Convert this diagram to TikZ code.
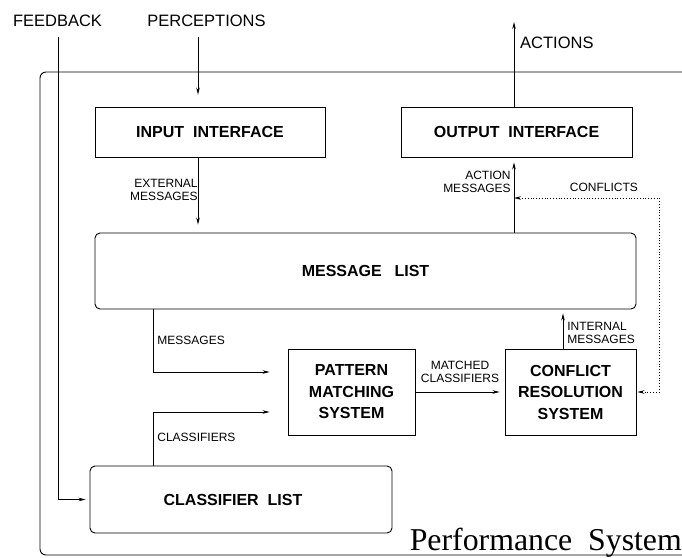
\documentclass[tikz,border=0pt]{standalone}
\usepackage{fontspec}
\setmainfont{Liberation Sans}
\newfontfamily\serifface{Liberation Serif}
\usetikzlibrary{arrows.meta}

\begin{document}
\begin{tikzpicture}[x=1pt,y=-1pt,>={Stealth[length=7pt,width=3.5pt]}]
	\newcommand{\boxfont}{\fontsize{16}{21.5}\selectfont\bfseries}
	\newcommand{\lblfont}{\fontsize{12}{13}\selectfont}
	\newcommand{\toplblfont}{\fontsize{16.5}{18}\selectfont}
	\newcommand{\cornerrad}{5pt} % corner radius of the lists

	% set the styles of the boxes, labels and flows
	\tikzset{
		block/.style={draw, line width=0.9pt, font=\boxfont, align=center, inner sep=0pt},
		list/.style={block, rounded corners=\cornerrad},
		lbl/.style={font=\lblfont, inner sep=0pt},
		toplbl/.style={font=\toplblfont, inner sep=0pt},
		flow/.style={->, line width=0.8pt}
	}

	\useasboundingbox (0,0) rectangle (682,557);

	% frame of the performance system
	\draw[line width=0.9pt, rounded corners=6pt] (682,72) -- (40,72) -- (40,555) -- (682,555);

	% boxes
	\node[block, minimum width=230pt, minimum height=50pt] (input) at (210,132) {INPUT\ \ INTERFACE};
	\node[block, minimum width=231pt, minimum height=50pt] (output) at (516.5,132) {OUTPUT\ \ INTERFACE};
	\node[list, minimum width=541pt, minimum height=76pt] (msglist) at (365.5,271) {MESSAGE\hspace{0.8em}LIST};
	\node[block, minimum width=127pt, minimum height=86pt] (pattern) at (351.5,392) {PATTERN\\MATCHING\\SYSTEM};
	\node[block, minimum width=131pt, minimum height=86pt] (conflict) at (570.5,392) {CONFLICT\\RESOLUTION\\SYSTEM};
	\node[list, minimum width=302pt, minimum height=67pt] (classlist) at (241,499.5) {CLASSIFIER\ \ LIST\hspace*{16pt}};

	% outer labels
	\node[toplbl] (fbtext) at (57.5,21) {FEEDBACK};
	\node[toplbl] (perctext) at (206.5,21) {PERCEPTIONS};
	\node[toplbl, anchor=west] (acttext) at (520,43) {ACTIONS};
	\node[font=\serifface\fontsize{31.8}{34}\selectfont, inner sep=0pt, anchor=base east] (perf) at (682,550) {Performance\ \ System};

	% free ends of the connectors
	\coordinate (fb) at (58,37);
	\coordinate (perc) at (198,37);
	\coordinate (act) at (514,22);
	\coordinate (cfl) at (659,198);
	\coordinate (intm) at (563,0);
	\coordinate (msg) at (153,0);

	% flows
	\draw[flow, shorten >=4pt] (fb) |- (classlist.west);
	\draw[flow, shorten >=12pt] (perc) -- (perc |- input.north);
	\draw[flow, shorten >=8pt] (perc |- input.south) -- (perc |- msglist.north)
		node[lbl, pos=0.43, anchor=east, align=right] {EXTERNAL\\MESSAGES};
	\draw[flow] (act |- output.north) -- (act);
	\draw[flow, shorten >=5pt] (act |- msglist.north) -- (act |- output.south)
		node[lbl, pos=0.68, anchor=east, align=right, xshift=-3pt] {ACTION\\MESSAGES};
	\draw[flow, dotted, <->, shorten <=1pt] (conflict.east) -| (cfl) -- (cfl -| act)
		node[lbl, pos=0.38, above=5.5pt] {CONFLICTS};
	\draw[flow, shorten >=4pt] (intm |- conflict.north) -- (intm |- msglist.south)
		node[lbl, pos=0.4, anchor=west, align=left, xshift=4pt] {INTERNAL\\MESSAGES};
	\draw[flow, shorten >=18pt] (msg |- msglist.south) |- ([yshift=20pt]pattern.west)
		node[lbl, pos=0.25, anchor=west, xshift=4pt] {MESSAGES};
	\draw[flow, shorten >=18pt] (msg |- classlist.north) |- ([yshift=-20pt]pattern.west)
		node[lbl, pos=0.26, anchor=west, xshift=4pt] {CLASSIFIERS};
	\draw[flow, shorten >=5pt] (pattern.east) -- (conflict.west)
		node[lbl, midway, above=9pt, align=center] {MATCHED\\CLASSIFIERS};

\end{tikzpicture}
\end{document}
